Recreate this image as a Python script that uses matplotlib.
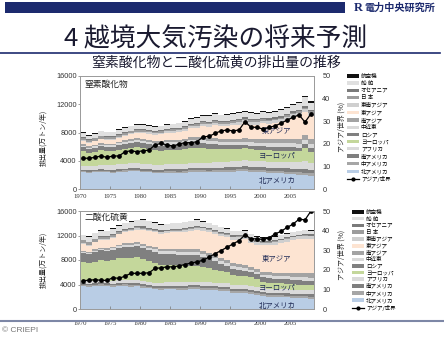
import numpy as np
import matplotlib
matplotlib.use('Agg')
import matplotlib.pyplot as plt
from matplotlib.patches import Patch, Rectangle
from matplotlib.lines import Line2D

plt.rcParams['font.family'] = ['Noto Sans CJK JP', 'DejaVu Sans']

years = np.arange(1970, 2009)
tick_years = [1970, 1975, 1980, 1985, 1990, 1995, 2000, 2005]

# stacking order, bottom -> top
region_names = ['北アメリカ', '中アメリカ', '南アメリカ', 'アフリカ', 'ヨーロッパ', 'ロシア', '中近東',
                '南アジア', '東アジア', '東南アジア', '日 本', 'オセアニア', '船 舶', '航空機']
region_colors = ['#b9cde5', '#a6a6a6', '#7f7f7f', '#dadada', '#c4d79b', '#808080', '#d9d9d9',
                 '#a3a3a3', '#fde4d2', '#cfcfcf', '#9c9c9c', '#7a7a7a', '#e0e0e0', '#111111']

# NOx emissions (10^4 t / year)
nox_na = [2350, 2300, 2350, 2400, 2350, 2300, 2400, 2450, 2500, 2500,
          2400, 2350, 2250, 2250, 2300, 2300, 2250, 2300, 2400, 2400,
          2400, 2350, 2400, 2400, 2450, 2450, 2500, 2500, 2450, 2400,
          2400, 2300, 2250, 2200, 2150, 2100, 2000, 1950, 1850]
nox_ca = [150, 150, 160, 160, 170, 170, 180, 180, 190, 200,
          200, 200, 200, 210, 210, 220, 220, 230, 230, 240,
          250, 250, 260, 260, 270, 270, 280, 290, 290, 300,
          300, 300, 310, 310, 320, 330, 340, 350, 350]
nox_sa = [200, 200, 210, 220, 220, 230, 240, 250, 260, 270,
          280, 280, 280, 290, 290, 300, 310, 320, 330, 340,
          350, 350, 360, 370, 380, 390, 400, 410, 410, 410,
          420, 420, 430, 440, 450, 460, 480, 500, 500]
nox_af = [600, 560, 600, 620, 620, 640, 660, 680, 690, 700,
          700, 700, 690, 690, 700, 700, 710, 720, 730, 740,
          750, 750, 760, 770, 780, 800, 820, 840, 840, 850,
          860, 870, 880, 900, 920, 950, 970, 1200, 1000]
nox_eu = [2100, 1900, 1950, 2100, 2000, 2000, 2100, 2150, 2200, 2250,
          2200, 2100, 2050, 2000, 2050, 2000, 2050, 2050, 2100, 2050,
          2000, 1950, 1900, 1800, 1750, 1750, 1700, 1700, 1650, 1600,
          1600, 1580, 1560, 1550, 1550, 1530, 1520, 1800, 1500]
nox_ru = [600, 580, 600, 620, 620, 640, 660, 680, 690, 700,
          700, 700, 700, 710, 720, 720, 730, 740, 750, 750,
          750, 720, 650, 600, 550, 520, 500, 480, 470, 480,
          500, 500, 510, 520, 530, 540, 550, 560, 550]
nox_me = [150, 150, 160, 170, 180, 190, 210, 230, 250, 270,
          300, 310, 320, 330, 340, 350, 360, 370, 380, 390,
          400, 410, 420, 430, 440, 450, 460, 470, 480, 490,
          500, 510, 520, 530, 540, 560, 570, 590, 600]
nox_sas = [200, 200, 210, 210, 220, 230, 240, 250, 260, 270,
           300, 310, 320, 330, 340, 350, 360, 370, 380, 390,
           400, 410, 420, 430, 440, 460, 470, 480, 490, 500,
           550, 560, 580, 600, 620, 640, 660, 690, 700]
nox_ea = [500, 480, 500, 530, 540, 560, 600, 650, 700, 780,
          850, 880, 900, 950, 1000, 1050, 1100, 1180, 1300, 1400,
          1600, 1650, 1850, 1800, 1850, 1950, 2000, 2150, 2050, 2050,
          2150, 2150, 2250, 2400, 2700, 3000, 3200, 3200, 3300]
nox_sea = [100, 100, 110, 110, 120, 120, 130, 140, 150, 160,
           170, 180, 190, 200, 210, 220, 230, 240, 260, 280,
           300, 310, 320, 340, 350, 360, 380, 390, 380, 380,
           400, 400, 410, 420, 430, 440, 450, 450, 450]
nox_jp = [300, 300, 310, 310, 300, 290, 280, 270, 260, 260,
          250, 250, 240, 240, 240, 240, 240, 240, 250, 250,
          250, 250, 250, 260, 260, 260, 260, 260, 250, 250,
          250, 250, 250, 240, 240, 240, 240, 230, 230]
nox_oc = [100, 100, 100, 110, 110, 110, 120, 120, 120, 130,
          130, 130, 130, 140, 140, 140, 140, 150, 150, 150,
          150, 150, 160, 160, 160, 160, 170, 170, 170, 170,
          170, 180, 180, 180, 190, 190, 190, 200, 200]
nox_ship = [600, 520, 580, 600, 560, 560, 580, 600, 600, 620,
            600, 580, 560, 560, 580, 580, 600, 620, 650, 680,
            800, 760, 900, 820, 820, 800, 800, 820, 800, 800,
            800, 780, 800, 830, 860, 900, 940, 1300, 1000]
nox_air = [60, 60, 60, 60, 60, 60, 70, 70, 70, 80,
           80, 80, 80, 80, 80, 90, 90, 90, 90, 100,
           100, 100, 100, 100, 110, 110, 120, 120, 120, 130,
           140, 140, 140, 150, 150, 160, 170, 180, 180]
# Asia / world share (%)
nox_share = [13.6, 13.6, 14.0, 14.6, 14.0, 14.6, 14.6, 16.5, 16.9, 16.5,
             16.9, 17.2, 19.5, 20.2, 19.5, 19.0, 19.9, 20.5, 20.5, 20.9,
             23.1, 23.3, 24.6, 25.7, 26.1, 25.7, 26.1, 29.8, 27.3, 27.3,
             26.5, 27.3, 27.9, 29.1, 30.5, 31.7, 32.8, 29.6, 33.3]

# SO2 emissions (10^4 t / year)
so2_na = [3700, 3600, 3700, 3800, 3700, 3600, 3700, 3750, 3650, 3700,
          3500, 3350, 3200, 3150, 3200, 3200, 3150, 3150, 3200, 3200,
          3150, 3100, 3050, 2950, 2900, 2600, 2600, 2650, 2500, 2350,
          2100, 2000, 1950, 1950, 1900, 1850, 1800, 1750, 1700]
so2_ca = [250, 250, 260, 260, 270, 270, 280, 280, 290, 290,
          290, 290, 300, 300, 300, 310, 310, 320, 320, 330,
          330, 330, 320, 320, 320, 310, 310, 310, 300, 300,
          300, 300, 300, 300, 300, 300, 300, 300, 300]
so2_sa = [250, 250, 260, 270, 270, 280, 280, 290, 290, 300,
          300, 300, 300, 310, 310, 320, 320, 330, 330, 340,
          350, 350, 350, 350, 350, 350, 350, 350, 350, 350,
          350, 360, 360, 370, 380, 380, 390, 400, 400]
so2_af = [400, 400, 420, 430, 440, 450, 460, 470, 480, 490,
          500, 510, 520, 530, 540, 550, 560, 570, 580, 590,
          600, 600, 600, 600, 600, 600, 600, 610, 610, 600,
          600, 600, 610, 610, 620, 630, 640, 650, 650]
so2_eu = [3000, 2950, 3100, 3200, 3150, 3400, 3550, 3600, 3650, 3650,
          3500, 3350, 3200, 2950, 2900, 2850, 2800, 2750, 2650, 2600,
          2450, 2250, 2100, 1950, 1800, 1700, 1600, 1500, 1400, 1300,
          1100, 1050, 1000, 950, 920, 880, 850, 830, 800]
so2_ru = [1500, 1500, 1550, 1600, 1600, 1650, 1700, 1750, 1800, 1800,
          1800, 1800, 1780, 1760, 1750, 1740, 1720, 1720, 1700, 1680,
          1600, 1500, 1350, 1200, 1050, 950, 900, 850, 800, 750,
          700, 700, 700, 700, 700, 700, 700, 700, 700]
so2_me = [200, 200, 220, 240, 260, 280, 300, 320, 350, 380,
          400, 410, 420, 430, 440, 450, 460, 480, 500, 520,
          550, 520, 500, 500, 480, 470, 460, 460, 450, 450,
          450, 460, 470, 480, 500, 510, 520, 540, 550]
so2_sas = [200, 200, 210, 220, 230, 240, 250, 260, 280, 300,
           330, 340, 350, 360, 380, 390, 400, 420, 440, 460,
           480, 480, 490, 490, 500, 500, 510, 520, 520, 510,
           500, 520, 540, 570, 600, 630, 660, 690, 700]
so2_ea = [1100, 1000, 1150, 1250, 1350, 1500, 1650, 1800, 1950, 2050,
          2300, 2400, 2450, 2500, 2600, 2700, 2800, 2900, 3050, 3200,
          3300, 3400, 3450, 3550, 3700, 3850, 4000, 4150, 3900, 3900,
          4300, 4400, 4600, 4850, 5100, 5350, 5500, 5600, 5600]
so2_sea = [100, 100, 110, 120, 130, 140, 150, 160, 180, 190,
           200, 210, 220, 230, 240, 250, 270, 290, 310, 330,
           350, 370, 380, 390, 400, 410, 420, 430, 400, 400,
           400, 410, 420, 430, 450, 460, 480, 490, 500]
so2_jp = [500, 450, 420, 380, 330, 280, 240, 210, 180, 160,
          150, 140, 130, 120, 110, 110, 100, 100, 100, 100,
          100, 100, 100, 100, 100, 90, 90, 90, 90, 90,
          90, 90, 90, 90, 90, 80, 80, 80, 80]
so2_oc = [100, 100, 110, 120, 130, 140, 150, 160, 170, 180,
          200, 200, 200, 200, 200, 200, 200, 200, 200, 200,
          200, 200, 200, 200, 200, 200, 210, 210, 210, 210,
          200, 200, 200, 200, 200, 200, 200, 200, 200]
so2_ship = [800, 800, 850, 880, 850, 880, 920, 980, 1000, 1050,
            1100, 1050, 1000, 950, 900, 900, 920, 950, 970, 1000,
            800, 780, 760, 740, 720, 700, 680, 660, 640, 600,
            550, 540, 540, 550, 560, 580, 600, 620, 620]
so2_air = [50, 50, 50, 50, 50, 50, 50, 60, 60, 60,
           60, 60, 60, 60, 60, 60, 60, 60, 70, 70,
           70, 70, 70, 70, 70, 70, 80, 80, 80, 80,
           80, 80, 80, 80, 90, 90, 90, 90, 90]
so2_share = [14.5, 14.6, 15.0, 14.6, 14.6, 16.0, 15.6, 16.8, 18.2, 18.2,
             18.2, 18.5, 20.7, 21.0, 21.5, 21.5, 22.0, 22.7, 23.5, 24.0,
             24.9, 26.5, 28.2, 29.8, 31.5, 33.2, 34.9, 37.8, 35.8, 35.8,
             35.5, 36.3, 38.3, 39.6, 41.6, 43.3, 45.8, 45.5, 50.0]

nox_layers = [nox_na, nox_ca, nox_sa, nox_af, nox_eu, nox_ru, nox_me,
              nox_sas, nox_ea, nox_sea, nox_jp, nox_oc, nox_ship, nox_air]
so2_layers = [so2_na, so2_ca, so2_sa, so2_af, so2_eu, so2_ru, so2_me,
              so2_sas, so2_ea, so2_sea, so2_jp, so2_oc, so2_ship, so2_air]

navy = '#1c2a6e'
W, H = 444, 337


def fx(px):
    return px / W


def fy(py):
    return 1 - py / H


def panel(ax, layers, share, name, tags, xpad, ylab_y):
    x = np.append(years, years[-1] + 1)
    ys = [np.append(v, v[-1]) for v in layers]
    ax.stackplot(x, *ys, colors=region_colors, step='post', linewidth=0)
    ax.set_xlim(1970, 2009)
    ax.set_ylim(0, 16000)
    yt = [0, 4000, 8000, 12000, 16000]
    ax.set_yticks(yt, [str(v) for v in yt], fontsize=5.3, fontfamily='Liberation Sans', color='#333333')
    ax.set_xticks(tick_years, [str(v) for v in tick_years], fontsize=4.8,
                  fontfamily='Liberation Serif', color='#333333')
    ax.tick_params(axis='x', direction='in', length=2, width=0.5, color='#777777', pad=xpad)
    ax.tick_params(axis='y', direction='out', length=1.5, width=0.5, color='#777777', pad=0.8)
    ax.set_ylabel('排出量(万トン/年)', fontsize=5, color='#222222')
    ax.yaxis.set_label_coords(-0.141, ylab_y)

    ax2 = ax.twinx()
    ax2.plot(years + 0.5, share, color='black', marker='o', ms=2.4, lw=0.9)
    ax2.set_ylim(0, 50)
    rt = [0, 10, 20, 30, 40, 50]
    ax2.set_yticks(rt, [str(v) for v in rt], fontsize=5.3, fontfamily='Liberation Sans', color='#333333')
    ax2.tick_params(axis='y', length=0, pad=6)
    ax2.set_ylabel('アジア/世界 (%)', fontsize=5, color='#222222', rotation=90)
    ax2.yaxis.set_label_coords(1.1, 0.55)
    for a in (ax, ax2):
        for s in a.spines.values():
            s.set_color('#9a9a9a')
            s.set_linewidth(0.6)

    ax.text(0.02, 0.93, name, transform=ax.transAxes, fontsize=6.3, color='#222222',
            va='center', ha='left', zorder=5,
            bbox=dict(facecolor='white', edgecolor='none', pad=0.5))
    for label, tx, ty in tags:
        ax.text(tx, ty, label, fontsize=5.3, color='#1f2a55', ha='left', va='center', zorder=5)

    handles = [Patch(facecolor=c, edgecolor='none') for c in region_colors[::-1]]
    handles.append(Line2D([], [], color='black', marker='o', ms=2, lw=0.9))
    labels = region_names[::-1] + ['アジア/世界']
    return ax2, handles, labels


fig = plt.figure(figsize=(W / 100, H / 100), dpi=100)

ax_top = fig.add_axes([fx(80), fy(189), fx(234), 113 / H])
ax_bot = fig.add_axes([fx(80), fy(309), fx(234), 98 / H])

t2, h, lab = panel(ax_top, nox_layers, nox_share, '窒素酸化物',
                   [('東アジア', 2000.3, 8200), ('ヨーロッパ', 1999.8, 4800), ('北アメリカ', 1999.8, 1200)],
                   3.5, 0.45)
ax_top.legend(h, lab, loc='upper left', bbox_to_anchor=(fx(347), fy(74)),
              bbox_transform=fig.transFigure, frameon=False, fontsize=4,
              handlelength=2.2, handleheight=0.6, handletextpad=0.3,
              labelspacing=0.37, borderpad=0, borderaxespad=0)

b2, h, lab = panel(ax_bot, so2_layers, so2_share, '二酸化硫黄',
                   [('東アジア', 2000.3, 8100), ('ヨーロッパ', 1999.8, 3500), ('北アメリカ', 1999.8, 550)],
                   8.5, 0.5)
ax_bot.legend(h, lab, loc='upper left', bbox_to_anchor=(fx(352), fy(210)),
              bbox_transform=fig.transFigure, frameon=False, fontsize=4,
              handlelength=2.2, handleheight=0.6, handletextpad=0.3,
              labelspacing=0.27, borderpad=0, borderaxespad=0)

# slide decoration
fig.patches.append(Rectangle((fx(5), fy(13)), fx(340), 11 / H, transform=fig.transFigure,
                             facecolor=navy, edgecolor='none'))
fig.text(fx(354), fy(8), 'R', fontsize=9, fontweight='bold', color=navy,
         fontfamily='Liberation Serif', va='center', ha='left')
fig.text(fx(364), fy(8), '電力中央研究所', fontsize=7.3, fontweight='bold', color=navy,
         va='center', ha='left')
fig.text(fx(216), fy(39), '4 越境大気汚染の将来予測', fontsize=18.5, color='#1a1a30',
         ha='center', va='center')
fig.add_artist(Line2D([0, fx(440)], [fy(52.5), fy(52.5)], transform=fig.transFigure,
                      color=navy, lw=1.2))
fig.text(fx(216), fy(63), '窒素酸化物と二酸化硫黄の排出量の推移', fontsize=10, color='#1a1a30',
         ha='center', va='center')
fig.add_artist(Line2D([0, 1], [fy(320.5), fy(320.5)], transform=fig.transFigure,
                      color='#7d87a6', lw=1.5))
fig.text(fx(2), fy(331), '© CRIEPI', fontsize=6, color='#777777', va='center', ha='left',
         fontfamily='Liberation Sans')

fig.savefig('out.png', dpi=100)
